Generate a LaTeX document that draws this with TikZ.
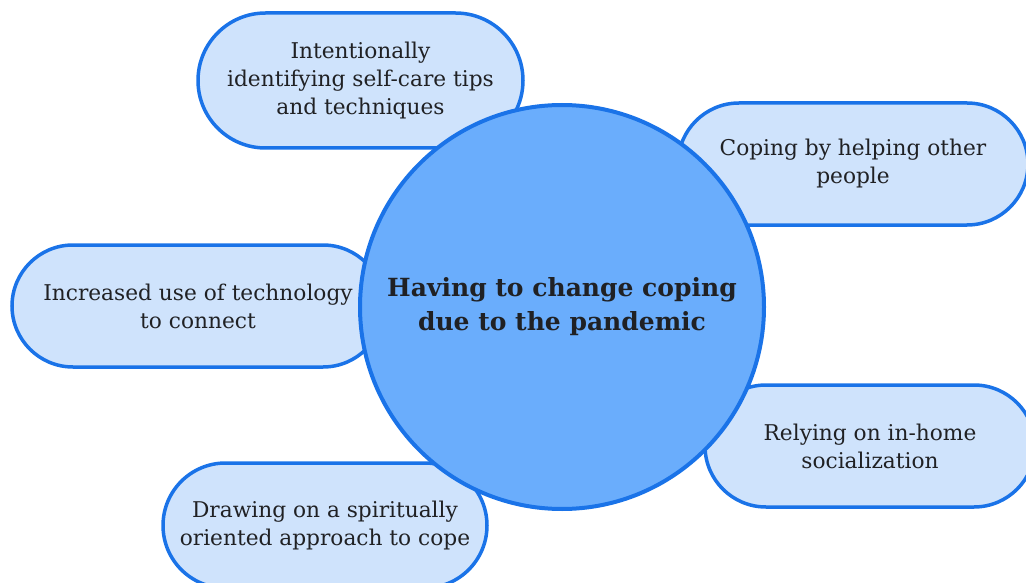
\documentclass[tikz,border=0pt]{standalone}
\usepackage{fontspec}
\setmainfont{DejaVu Serif}
\usetikzlibrary{shapes.misc}
\definecolor{edgeblue}{HTML}{1A73E8}
\definecolor{lightfill}{HTML}{CFE3FC}
\definecolor{hubfill}{HTML}{6AADFC}
\definecolor{textdark}{HTML}{202124}
\tikzset{
  leaf/.style={rounded rectangle, draw=edgeblue, fill=lightfill, line width=3.5pt,
    align=center, text=textdark, inner sep=0pt,
    font=\fontsize{21.7}{28}\selectfont},
  hub/.style={circle, draw=edgeblue, fill=hubfill, line width=4pt, minimum size=404pt,
    inner sep=0pt, align=center, text=textdark,
    font=\fontsize{25}{34}\selectfont\bfseries}
}
\begin{document}
\begin{tikzpicture}[x=1pt,y=-1pt]
\useasboundingbox (0,0) rectangle (1026,583);
\node[leaf, minimum width=325pt, minimum height=135pt] (selfcare) at (360.5,80.5)
  {Intentionally\\identifying self-care tips\\and techniques};
\node[leaf, minimum width=350pt, minimum height=122pt] (helping) at (853,164)
  {Coping by helping other\\people};
\node[leaf, minimum width=372pt, minimum height=122pt] (tech) at (198,306)
  {Increased use of technology\\to connect};
\node[leaf, minimum width=330pt, minimum height=122pt] (inhome) at (870,446)
  {Relying on in-home\\socialization};
\node[leaf, minimum width=324pt, minimum height=125pt] (spirit) at (325,525.5)
  {Drawing on a spiritually\\oriented approach to cope};
\node[hub] (hub) at (562,307) {Having to change coping\\due to the pandemic};
\end{tikzpicture}
\end{document}
